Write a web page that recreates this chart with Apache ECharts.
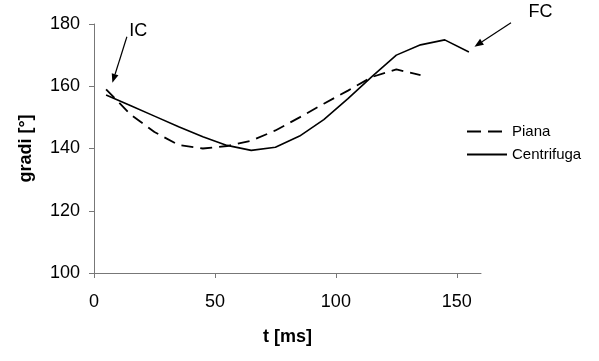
<!DOCTYPE html>
<html><head><meta charset="utf-8">
<script src="https://cdn.jsdelivr.net/npm/echarts@6/dist/echarts.min.js"></script>
<style>html,body{margin:0;padding:0;background:#fff}#c{width:599px;height:361px}</style>
</head><body><div id="c"></div>
<script>
// ---- data ----
const tPiana = [5, 15, 25, 35, 45, 55, 65, 75, 85, 95, 105, 115, 125, 135];
const piana = [159.0, 151.0, 145.3, 141.1, 140.0, 140.8, 142.5, 145.8, 150.0, 154.4, 158.6, 163.0, 165.4, 163.6];
const tCentrifuga = [5, 15, 25, 35, 45, 55, 65, 75, 85, 95, 105, 115, 125, 135, 145, 155];
const centrifuga = [157.2, 153.8, 150.4, 147.0, 143.8, 141.0, 139.4, 140.4, 144.0, 149.3, 156.0, 163.2, 170.0, 173.3, 174.9, 171.0];
const xTicks = [0, 50, 100, 150];
const seriesNames = ['Piana', 'Centrifuga'];
// annotations (data coordinates)
const annLabels = ['IC', 'FC'];
const annTextAt = [[18.3, 177.7], [184.6, 183.9]];
const annArrowFrom = [[13.6, 175.9], [172.4, 180.4]];
const annArrowTo = [[7.6, 161.1], [157.3, 172.7]];

const FONT = 'Liberation Sans, Arial, sans-serif';
const AXIS = '#777';
const chart = echarts.init(document.getElementById('c'), null, {renderer: 'canvas'});

function pairs(xs, ys) { return xs.map((x, i) => [x, ys[i]]); }

chart.setOption({
  animation: false,
  backgroundColor: '#fff',
  grid: {left: 94, top: 24, right: 118, bottom: 88, containLabel: false},
  legend: {
    orient: 'vertical', left: 461, top: 119,
    itemWidth: 40, itemHeight: 14, itemGap: 8,
    itemStyle: {opacity: 0, color: 'transparent', borderWidth: 0},
    textStyle: {fontFamily: FONT, fontSize: 15, color: '#000'},
    data: [
      {name: seriesNames[0], lineStyle: {type: [14, 7], width: 1.8}},
      {name: seriesNames[1]}
    ]
  },
  xAxis: {
    type: 'value', min: 0, max: 160, interval: 50,
    name: 't [ms]', nameLocation: 'middle', nameGap: 55,
    nameTextStyle: {fontFamily: FONT, fontSize: 18, fontWeight: 'bold', color: '#000'},
    axisLine: {show: true, lineStyle: {color: AXIS, width: 1}},
    axisTick: {show: true, length: 5, lineStyle: {color: AXIS}, customValues: xTicks},
    axisLabel: {fontFamily: FONT, fontSize: 18, color: '#000', margin: 20, customValues: xTicks},
    splitLine: {show: false}
  },
  yAxis: {
    type: 'value', min: 100, max: 180, interval: 20,
    name: 'gradi [°]', nameLocation: 'middle', nameGap: 59,
    nameTextStyle: {fontFamily: FONT, fontSize: 18, fontWeight: 'bold', color: '#000'},
    axisLine: {show: true, lineStyle: {color: AXIS, width: 1}},
    axisTick: {show: true, length: 5, lineStyle: {color: AXIS}},
    axisLabel: {fontFamily: FONT, fontSize: 18, color: '#000', margin: 14},
    splitLine: {show: false}
  },
  series: [
    {name: seriesNames[0], type: 'line', data: pairs(tPiana, piana), symbol: 'none',
     lineStyle: {color: '#000', width: 1.8, type: [12, 7]}, itemStyle: {color: '#000'}},
    {name: seriesNames[1], type: 'line', data: pairs(tCentrifuga, centrifuga), symbol: 'none',
     lineStyle: {color: '#000', width: 1.6, type: 'solid'}, itemStyle: {color: '#000'}}
  ]
});

// annotations placed through the chart's own scales
const elements = [];
annLabels.forEach((lab, i) => {
  const tp = chart.convertToPixel({xAxisIndex: 0, yAxisIndex: 0}, annTextAt[i]);
  const a = chart.convertToPixel({xAxisIndex: 0, yAxisIndex: 0}, annArrowFrom[i]);
  const b = chart.convertToPixel({xAxisIndex: 0, yAxisIndex: 0}, annArrowTo[i]);
  const dx = b[0] - a[0], dy = b[1] - a[1];
  const len = Math.sqrt(dx * dx + dy * dy);
  const ux = dx / len, uy = dy / len;
  const hl = 9, hw = 3.5;
  const bx = b[0] - ux * hl, by = b[1] - uy * hl;
  elements.push({type: 'text', x: tp[0], y: tp[1],
    style: {text: lab, fill: '#000', font: '18px ' + FONT, align: 'center', verticalAlign: 'middle'}});
  elements.push({type: 'line', shape: {x1: a[0], y1: a[1], x2: bx, y2: by},
    style: {stroke: '#000', lineWidth: 1.2}});
  elements.push({type: 'polygon', shape: {points: [[b[0], b[1]], [bx - uy * hw, by + ux * hw], [bx + uy * hw, by - ux * hw]]},
    style: {fill: '#000'}});
});
chart.setOption({graphic: {elements: elements}});
</script>
</body></html>
